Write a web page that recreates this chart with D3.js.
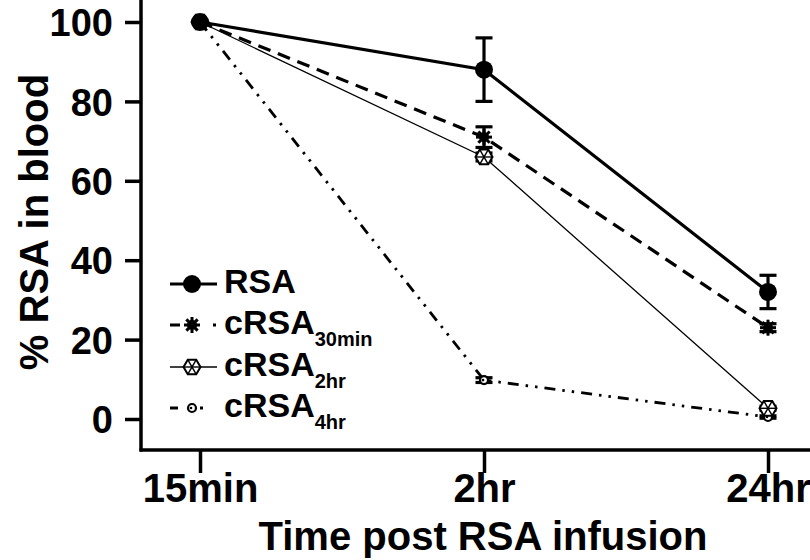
<!DOCTYPE html>
<html>
<head>
<meta charset="utf-8">
<script src="https://cdn.jsdelivr.net/npm/d3@7"></script>
<style>
  body { margin: 0; background: #fff; }
  text { font-family: "Liberation Sans", Arial, sans-serif; font-weight: bold; fill: #000; }
</style>
</head>
<body>
<svg id="chart"></svg>
<script>
const timepoints = ["15min", "2hr", "24hr"];
const yTicks = [0, 20, 40, 60, 80, 100];

const rsa = [100, 88, 32];
const rsaErr = [0, 8, 4.2];
const crsa30 = [100, 71, 23];
const crsa30Err = [0, 2.6, 1];
const crsa2 = [100, 66, 2.7];
const crsa2Err = [0, 1, 0.5];
const crsa4 = [100, 9.8, 0.5];
const crsa4Err = [0, 0.6, 0.3];

const width = 810, height = 560;

const svg = d3.select("#chart")
    .attr("width", width)
    .attr("height", height);

const x = d3.scalePoint()
    .domain(timepoints)
    .range([200, 768]);

const y = d3.scaleLinear()
    .domain([0, 100])
    .range([419, 22]);

// axes
const yAxisX = 141, xAxisY = 450;

const yAxis = svg.append("g")
    .attr("transform", `translate(${yAxisX},0)`)
    .call(d3.axisLeft(y).tickValues(yTicks).tickSize(16).tickPadding(12).tickSizeOuter(0));
yAxis.select(".domain").remove();
yAxis.append("line")
    .attr("x1", 0).attr("x2", 0).attr("y1", 0).attr("y2", xAxisY + 1.5)
    .attr("stroke", "#000").attr("stroke-width", 3.5);
yAxis.selectAll(".tick line").attr("stroke-width", 3.5);
yAxis.selectAll(".tick text").style("font-size", "38px").attr("dy", "0.36em");

const xAxis = svg.append("g")
    .attr("transform", `translate(0,${xAxisY})`)
    .call(d3.axisBottom(x).tickSize(23).tickSizeOuter(0));
xAxis.select(".domain").remove();
xAxis.append("line")
    .attr("x1", yAxisX - 1.5).attr("x2", 810).attr("y1", 0).attr("y2", 0)
    .attr("stroke", "#000").attr("stroke-width", 3.5);
xAxis.selectAll(".tick line").attr("stroke-width", 3.5);
xAxis.selectAll(".tick text").style("font-size", "40px").attr("y", 52).attr("dy", 0);

svg.append("text")
    .attr("x", 483).attr("y", 550)
    .attr("text-anchor", "middle")
    .style("font-size", "40px")
    .text("Time post RSA infusion");

svg.append("text")
    .attr("transform", "translate(48,222) rotate(-90)")
    .attr("text-anchor", "middle")
    .style("font-size", "40px")
    .text("% RSA in blood");

// markers
function drawMarker(g, type) {
    if (type === "circle") {
        g.append("circle").attr("r", 9).attr("fill", "#000");
    } else if (type === "star") {
        g.append("circle").attr("r", 5).attr("fill", "#000");
        for (let i = 0; i < 4; i++) {
            const a = i * Math.PI / 4;
            g.append("line")
                .attr("x1", -8 * Math.cos(a)).attr("y1", -8 * Math.sin(a))
                .attr("x2", 8 * Math.cos(a)).attr("y2", 8 * Math.sin(a))
                .attr("stroke", "#000").attr("stroke-width", 3);
        }
    } else if (type === "hex") {
        const r = 8.5;
        const pts = d3.range(6).map(i => [r * Math.cos(i * Math.PI / 3), r * Math.sin(i * Math.PI / 3)]);
        g.append("polygon")
            .attr("points", pts.map(p => p.join(",")).join(" "))
            .attr("fill", "#fff").attr("stroke", "#000").attr("stroke-width", 2);
        for (let i = 0; i < 3; i++) {
            g.append("line")
                .attr("x1", pts[i][0]).attr("y1", pts[i][1])
                .attr("x2", pts[i + 3][0]).attr("y2", pts[i + 3][1])
                .attr("stroke", "#000").attr("stroke-width", 1.4);
        }
    } else if (type === "ring") {
        g.append("circle").attr("r", 4)
            .attr("fill", "#fff").attr("stroke", "#000").attr("stroke-width", 2.2);
        g.append("circle").attr("r", 1.3).attr("cx", -1).attr("fill", "#000");
    }
}

const series = [
    { name: "cRSA", sub: "4hr", values: crsa4, err: crsa4Err, width: 2.8, dash: "11,7,2.5,7,2.5,7", legendDash: "8,9,0,13,3,20", marker: "ring" },
    { name: "cRSA", sub: "2hr", values: crsa2, err: crsa2Err, width: 1.3, dash: null, legendDash: null, marker: "hex" },
    { name: "cRSA", sub: "30min", values: crsa30, err: crsa30Err, width: 3.2, dash: "13,8", legendDash: "10,33,3,20", marker: "star" },
    { name: "RSA", sub: "", values: rsa, err: rsaErr, width: 3.2, dash: null, legendDash: null, marker: "circle" }
];

const line = d3.line()
    .x((d, i) => x(timepoints[i]))
    .y(d => y(d));

series.forEach(s => {
    svg.append("path")
        .datum(s.values)
        .attr("d", line)
        .attr("fill", "none")
        .attr("stroke", "#000")
        .attr("stroke-width", s.width)
        .attr("stroke-dasharray", s.dash);
});

series.forEach(s => {
    s.values.forEach((v, i) => {
        const cx = x(timepoints[i]);
        if (s.err[i] > 0) {
            const eb = svg.append("g").attr("stroke", "#000").attr("stroke-width", 3.2);
            const lo = y(v - s.err[i]), hi = y(v + s.err[i]);
            eb.append("line").attr("x1", cx).attr("x2", cx).attr("y1", lo).attr("y2", hi);
            eb.append("line").attr("x1", cx - 8.5).attr("x2", cx + 8.5).attr("y1", lo).attr("y2", lo);
            eb.append("line").attr("x1", cx - 8.5).attr("x2", cx + 8.5).attr("y1", hi).attr("y2", hi);
        }
        const g = svg.append("g").attr("transform", `translate(${cx},${y(v)})`);
        drawMarker(g, s.marker);
    });
});

// legend
const legendY = [284, 325, 367, 408];
const legendOrder = series.slice().reverse();
legendOrder.forEach((s, i) => {
    const ly = legendY[i];
    svg.append("line")
        .attr("x1", 170).attr("x2", 217).attr("y1", ly).attr("y2", ly)
        .attr("stroke", "#000").attr("stroke-width", s.width)
        .attr("stroke-dasharray", s.legendDash);
    drawMarker(svg.append("g").attr("transform", `translate(192,${ly})`), s.marker);
    const t = svg.append("text")
        .attr("x", 224).attr("y", ly + 9)
        .style("font-size", "34px")
        .text(s.name);
    if (s.sub) {
        t.append("tspan").attr("dy", 12).style("font-size", "20px").text(s.sub);
    }
});
</script>
</body>
</html>
